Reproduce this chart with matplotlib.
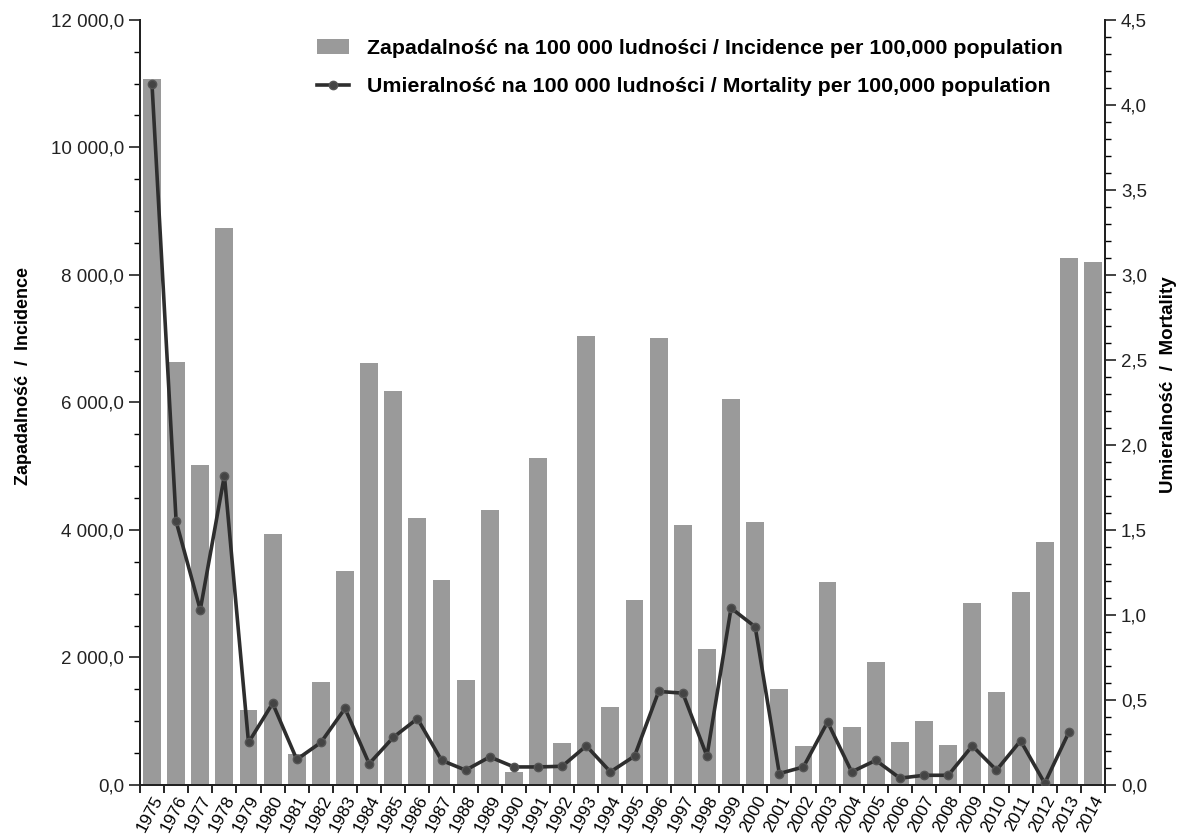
import numpy as np
import matplotlib
matplotlib.use("Agg")
import matplotlib.pyplot as plt
from matplotlib.ticker import FuncFormatter, MultipleLocator

plt.rcParams['font.family'] = ['Liberation Sans', 'DejaVu Sans']

years = list(range(1975, 2015))
incidence = [11070, 6630, 5020, 8730, 1170, 3930, 490, 1610, 3350, 6610,
             6180, 4180, 3210, 1650, 4310, 210, 5120, 665, 7040, 1220,
             2900, 7010, 4070, 2130, 6060, 4130, 1500, 615, 3185, 905,
             1935, 680, 1005, 630, 2855, 1465, 3020, 3810, 8260, 8195]
mortality = [4.12, 1.55, 1.03, 1.82, 0.25, 0.48, 0.15, 0.25, 0.45, 0.125,
             0.28, 0.39, 0.145, 0.087, 0.165, 0.106, 0.106, 0.11, 0.23, 0.077,
             0.17, 0.55, 0.54, 0.17, 1.04, 0.93, 0.067, 0.106, 0.37, 0.077,
             0.145, 0.04, 0.057, 0.057, 0.23, 0.087, 0.26, 0.01, 0.31]

label_inc = "Zapadalność na 100 000 ludności / Incidence per 100,000 population"
label_mort = "Umieralność na 100 000 ludności / Mortality per 100,000 population"


def pl_fmt(decimals):
    def f(v, pos):
        s = f"{v:,.{decimals}f}"
        return s.replace(",", " ").replace(".", ",")
    return FuncFormatter(f)


fig = plt.figure(figsize=(11.9, 8.39), dpi=100)
ax = fig.add_axes([0.1176, 0.0644, 0.811, 0.912])
ax2 = ax.twinx()

x = np.arange(len(years))
bars = ax.bar(x, incidence, width=0.74, color="#9a9a9a", label=label_inc, zorder=1)
line, = ax2.plot(x[:len(mortality)], mortality, color="#2e2e2e", lw=2.6,
                 marker="o", markersize=6, markerfacecolor="#444444",
                 markeredgecolor="#555555", label=label_mort, zorder=3)

ax.set_xlim(-0.5, len(years) - 0.5)
ax.set_ylim(0, 12000)
ax2.set_ylim(0, 4.5)

ax.yaxis.set_major_locator(MultipleLocator(2000))
ax.yaxis.set_minor_locator(MultipleLocator(500))
ax.yaxis.set_major_formatter(pl_fmt(1))
ax2.yaxis.set_major_locator(MultipleLocator(0.5))
ax2.yaxis.set_minor_locator(MultipleLocator(0.1))
ax2.yaxis.set_major_formatter(pl_fmt(1))

ax.set_xticks(x)
ax.set_xticklabels([str(y) for y in years], rotation=62, ha="right",
                   rotation_mode="anchor", fontsize=12.5)
ax.set_xticks(np.arange(-0.5, len(years)), minor=True)
ax.tick_params(axis="x", which="major", length=0, pad=6)
ax.tick_params(axis="x", which="minor", length=6, width=1.2, direction="out")

ax.tick_params(axis="y", which="major", length=8, width=1.2, labelsize=13.5, colors="#222222")
ax.tick_params(axis="y", which="minor", length=4, width=1)
ax2.tick_params(axis="y", which="major", length=8, width=1.2, labelsize=13.5, colors="#222222")
ax2.tick_params(axis="y", which="minor", length=4, width=1)

for a in (ax, ax2):
    a.spines["top"].set_visible(False)
    for s in ("left", "right", "bottom"):
        a.spines[s].set_linewidth(1.4)
        a.spines[s].set_color("#222222")

ax.set_ylabel("Zapadalność  /  Incidence", fontsize=13, fontweight="bold")
ax.yaxis.set_label_coords(-0.112, 0.535)
ax2.set_ylabel("Umieralność  /  Mortality", fontsize=13.5, fontweight="bold")
ax2.yaxis.set_label_coords(1.057, 0.523)

leg = ax.legend([bars, line], [label_inc, label_mort], loc="upper left",
                bbox_to_anchor=(0.175, 0.986), frameon=False, borderaxespad=0,
                prop={"weight": "bold", "size": 15.4}, handlelength=1.5,
                handletextpad=0.8, labelspacing=0.9)

fig.savefig("out.png", dpi=100)
